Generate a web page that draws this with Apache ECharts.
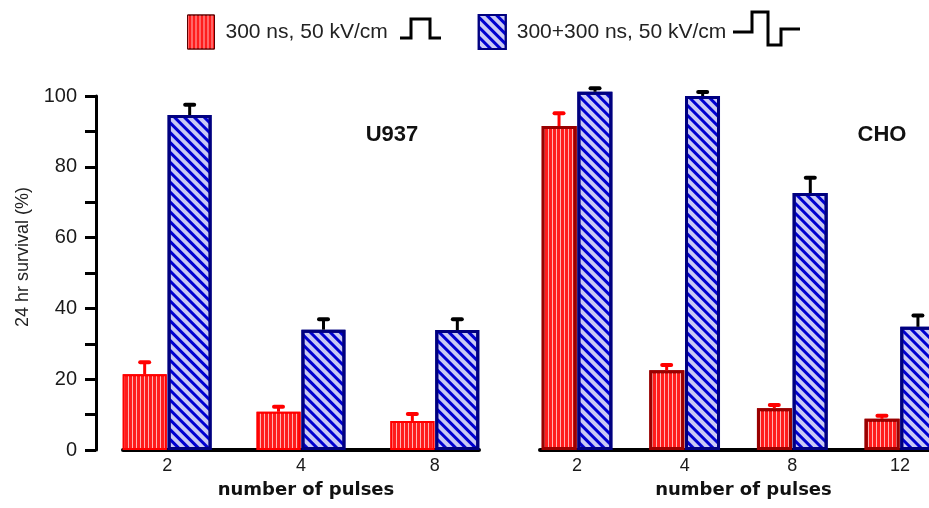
<!DOCTYPE html>
<html>
<head>
<meta charset="utf-8">
<script src="https://cdn.jsdelivr.net/npm/echarts@6/dist/echarts.min.js"></script>
<style>
  html, body { margin: 0; padding: 0; background: #fff; }
  #chart { width: 929px; height: 508px; }
</style>
</head>
<body>
<div id="chart"></div>
<script>
// ---- data ----
const seriesNames = ['300 ns, 50 kV/cm', '300+300 ns, 50 kV/cm'];
const u937Cats = ['2', '4', '8'];
const u937Single = [21.4, 10.8, 8.2];
const u937SingleErr = [3.4, 1.4, 2.0];
const u937Double = [94.6, 34.0, 33.9];
const u937DoubleErr = [2.9, 2.9, 3.0];
const choCats = ['2', '4', '8', '12'];
const choSingle = [91.5, 22.5, 11.8, 8.8];
const choSingleErr = [3.6, 1.5, 0.9, 0.9];
const choDouble = [101.2, 100.0, 72.6, 34.8];
const choDoubleErr = [1.0, 1.1, 4.3, 3.2];
const yTicks = [0, 20, 40, 60, 80, 100];

const chart = echarts.init(document.getElementById('chart'), null, { renderer: 'canvas' });

const redDecal = { symbol: 'rect', symbolSize: 1, color: 'rgba(255,215,215,0.8)', dashArrayX: [1, 3], dashArrayY: [1, 0], rotation: 0 };
const blueDecal = { symbol: 'rect', symbolSize: 1, color: '#0000d0', dashArrayX: [1, 0], dashArrayY: [3, 4], rotation: Math.PI / 4 };

function pairs(vals) { return vals.map((v, i) => [i + 1, v]); }
function triples(vals, errs) { return vals.map((v, i) => [i + 1, v, errs[i]]); }

function errRender(offsetPx, color) {
  return function (params, api) {
    const x = api.value(0), v = api.value(1), e = api.value(2);
    const base = api.coord([x, v]);
    const top = api.coord([x, v + e]);
    const cx = base[0] + offsetPx;
    return {
      type: 'group',
      children: [
        { type: 'line', shape: { x1: cx, y1: base[1], x2: cx, y2: top[1] }, style: { stroke: color, lineWidth: 3 } },
        { type: 'line', shape: { x1: cx - 4.5, y1: top[1], x2: cx + 4.5, y2: top[1] }, style: { stroke: color, lineWidth: 4, lineCap: 'round' } }
      ]
    };
  };
}

const textColor = '#1a1a1a';
const nameStyleBase = { fontFamily: 'DejaVu Sans', fontWeight: 'bold', fontSize: 18, color: '#111' };

const option = {
  animation: false,
  backgroundColor: '#fff',
  legend: {
    left: 187, top: 14, padding: 0,
    itemWidth: 27, itemHeight: 34, itemGap: 90,
    icon: 'rect',
    selectedMode: false,
    textStyle: { fontFamily: 'Liberation Sans, Arial', fontSize: 21, color: '#222', padding: [0, 0, 0, 6] },
    data: [
      { name: seriesNames[0], itemStyle: { borderColor: '#5a0000', borderWidth: 1 } },
      { name: seriesNames[1], itemStyle: { borderColor: '#000080', borderWidth: 2 } }
    ]
  },
  grid: [
    { left: 123, width: 356, top: 96, bottom: 58 },
    { left: 540, right: 0, top: 96, bottom: 58 }
  ],
  xAxis: [
    {
      type: 'value', gridIndex: 0, min: 0.67, max: 3.33,
      axisLine: { show: true, onZero: false, lineStyle: { color: '#000', width: 4 } },
      axisTick: { show: false }, splitLine: { show: false },
      axisLabel: { customValues: [1, 2, 3], formatter: v => u937Cats[Math.round(v) - 1], fontFamily: 'Liberation Sans, Arial', fontSize: 18, color: textColor, margin: 7 },
      name: 'number of pulses', nameLocation: 'middle', nameGap: 31,
      nameTextStyle: Object.assign({ padding: [0, 0, 0, 10] }, nameStyleBase)
    },
    {
      type: 'value', gridIndex: 1, min: 0.656, max: 4.27,
      axisLine: { show: true, onZero: false, lineStyle: { color: '#000', width: 4 } },
      axisTick: { show: false }, splitLine: { show: false },
      axisLabel: { customValues: [1, 2, 3, 4], formatter: v => choCats[Math.round(v) - 1], fontFamily: 'Liberation Sans, Arial', fontSize: 18, color: textColor, margin: 7 },
      name: 'number of pulses', nameLocation: 'middle', nameGap: 31,
      nameTextStyle: Object.assign({ padding: [0, 0, 0, 18] }, nameStyleBase)
    }
  ],
  yAxis: [
    {
      type: 'value', gridIndex: 0, min: yTicks[0], max: yTicks[yTicks.length - 1], interval: 20, offset: 27,
      axisLine: { show: true, lineStyle: { color: '#000', width: 3 } },
      axisTick: { show: true, length: 11, lineStyle: { color: '#000', width: 3 } },
      minorTick: { show: true, splitNumber: 2, length: 11, lineStyle: { color: '#000', width: 3 } },
      splitLine: { show: false }, minorSplitLine: { show: false },
      axisLabel: { fontFamily: 'Liberation Sans, Arial', fontSize: 20, color: textColor, margin: 19 },
      name: '24 hr survival (%)', nameLocation: 'middle', nameGap: 64,
      nameTextStyle: { fontFamily: 'Liberation Sans, Arial', fontSize: 18, color: '#222', padding: [0, 0, 0, 32] }
    },
    { type: 'value', gridIndex: 1, min: 0, max: 100, show: false }
  ],
  series: [
    {
      type: 'bar', name: seriesNames[0], xAxisIndex: 0, yAxisIndex: 0, data: pairs(u937Single),
      barWidth: 44, barGap: '2%', clip: false,
      itemStyle: { color: '#ff1c1c', borderColor: '#ff0000', borderWidth: 2, decal: redDecal }
    },
    {
      type: 'bar', name: seriesNames[1], xAxisIndex: 0, yAxisIndex: 0, data: pairs(u937Double),
      barWidth: 44, barGap: '2%', clip: false,
      itemStyle: { color: '#c9c9f5', borderColor: '#000080', borderWidth: 3, decal: blueDecal }
    },
    {
      type: 'bar', name: seriesNames[0], xAxisIndex: 1, yAxisIndex: 1, data: pairs(choSingle),
      barWidth: 35, barGap: '2%', clip: false,
      itemStyle: { color: '#ff1c1c', borderColor: '#9a0000', borderWidth: 3, decal: redDecal }
    },
    {
      type: 'bar', name: seriesNames[1], xAxisIndex: 1, yAxisIndex: 1, data: pairs(choDouble),
      barWidth: 35, barGap: '2%', clip: false,
      itemStyle: { color: '#c9c9f5', borderColor: '#000080', borderWidth: 3, decal: blueDecal }
    },
    { type: 'custom', name: 'errA', xAxisIndex: 0, yAxisIndex: 0, z: 5, data: triples(u937Single, u937SingleErr), renderItem: errRender(-22.5, '#ff0000'), encode: { x: 0, y: 1 } },
    { type: 'custom', name: 'errB', xAxisIndex: 0, yAxisIndex: 0, z: 5, data: triples(u937Double, u937DoubleErr), renderItem: errRender(22.5, '#000'), encode: { x: 0, y: 1 } },
    { type: 'custom', name: 'errC', xAxisIndex: 1, yAxisIndex: 1, z: 5, data: triples(choSingle, choSingleErr), renderItem: errRender(-18, '#ff0000'), encode: { x: 0, y: 1 } },
    { type: 'custom', name: 'errD', xAxisIndex: 1, yAxisIndex: 1, z: 5, data: triples(choDouble, choDoubleErr), renderItem: errRender(18, '#000'), encode: { x: 0, y: 1 } }
  ],
  graphic: [
    { type: 'text', style: { text: 'U937', x: 392, y: 135, textAlign: 'center', textVerticalAlign: 'middle', font: 'bold 22px "Liberation Sans", Arial', fill: '#111' } },
    { type: 'text', style: { text: 'CHO', x: 882, y: 135, textAlign: 'center', textVerticalAlign: 'middle', font: 'bold 22px "Liberation Sans", Arial', fill: '#111' } },
    { type: 'polyline', shape: { points: [[400, 38], [411, 38], [411, 19], [430, 19], [430, 38], [441, 38]] }, style: { stroke: '#000', lineWidth: 3, fill: null } },
    { type: 'polyline', shape: { points: [[733, 32], [752, 32], [752, 12], [768, 12], [768, 45], [781, 45], [781, 29], [800, 29]] }, style: { stroke: '#000', lineWidth: 3, fill: null } }
  ]
};

chart.setOption(option);
</script>
</body>
</html>
